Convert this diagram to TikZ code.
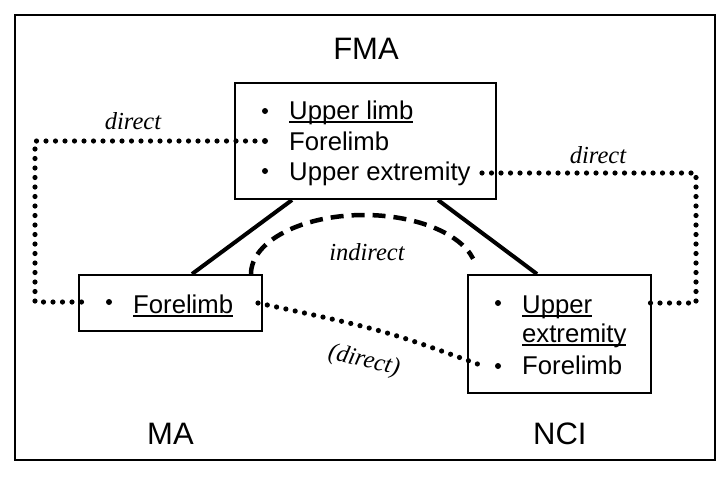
\documentclass[tikz,border=0pt]{standalone}
\usepackage{fontspec}
\setmainfont{Liberation Sans}
\newfontfamily\tnr{Liberation Serif}
\newcommand\myul[1]{\setbox0=\hbox{#1}\rlap{\rule[-3.5pt]{\wd0}{1.4pt}}\box0}
\begin{document}
\begin{tikzpicture}[x=1pt,y=-1pt,
 box/.style={draw,line width=2pt,inner sep=0pt},
 body/.style={font=\fontsize{25.7}{30}\selectfont,inner sep=0pt,anchor=base west},
 head/.style={font=\fontsize{31}{36}\selectfont,inner sep=0pt},
 lbl/.style={font=\fontsize{24.5}{28}\selectfont\tnr\itshape,inner sep=0pt},
 bul/.style={circle,fill,inner sep=0pt,minimum size=6pt},
 dotline/.style={line width=5.2pt,line cap=round,dash pattern=on 0pt off 9.5pt},
 solidline/.style={line width=4pt},
 dashline/.style={line width=4.5pt,dash pattern=on 13pt off 8pt}]
\useasboundingbox (0,0) rectangle (728,477);
\node[box,minimum width=700pt,minimum height=445pt] (frame) at (365,237.5) {};
% boxes
\node[box,minimum width=261pt,minimum height=116pt] (fma) at (365.5,141) {};
\node[box,minimum width=183pt,minimum height=56pt] (ma) at (170.5,303) {};
\node[box,minimum width=183pt,minimum height=118pt] (nci) at (559.5,334) {};
% headings
\node[head,anchor=base] (hfma) at (366,59) {FMA};
\node[head,anchor=base west] (hma) at (147,444) {MA};
\node[head,anchor=base west] (hnci) at (533,444) {NCI};
% FMA texts
\node[bul] (fb1) at (265,111) {};
\node[bul] (fb2) at (265,141) {};
\node[bul] (fb3) at (265,171) {};
\node[body] (ft1) at (289,119) {\myul{Upper limb}};
\node[body] (ft2) at (289,150) {Forelimb};
\node[body] (ft3) at (289,180) {Upper extremity};
% MA texts
\node[bul] (mb) at (109,302) {};
\node[body] (mt) at (133,313) {\myul{Forelimb}};
% NCI texts
\node[bul] (nb1) at (498,303) {};
\node[bul] (nb3) at (498,366) {};
\node[body] (nt1) at (522,313) {\myul{Upper}};
\node[body] (nt2) at (522,342) {\myul{extremity}};
\node[body] (nt3) at (522,374) {Forelimb};
% labels
\node[lbl] (l1) at (133,121) {direct};
\node[lbl] (l2) at (598,155) {direct};
\node[lbl] (l3) at (367,252) {indirect};
\node[lbl,rotate=-13] (l4) at (364,361) {(direct)};
% corner coordinates
\coordinate (c1) at (35,141);
\coordinate (c2) at (35,302);
\coordinate (r0) at (482,173);
\coordinate (r1) at (696,173);
\coordinate (r2) at (696,303);
\coordinate (mc) at (384,330);
% solid connectors
\draw[solidline] ([xshift=58pt]fma.south west) -- ([xshift=114pt]ma.north west);
\draw[solidline] ([xshift=204pt]fma.south west) -- ([xshift=70pt]nci.north west);
% dashed arc
\draw[dashline] ([xshift=173pt]ma.north west) arc[start angle=180,end angle=15,x radius=113pt,y radius=59pt];
% dotted connectors
\draw[dotline] ([xshift=-10pt]fb2.center) -- (c1) -- (c2) -- ([xshift=-21pt]mb.center);
\draw[dotline] (r0) -- (r1) -- (r2) -- ([xshift=144pt]nb1.center);
\draw[dotline] ([xshift=-5pt]ma.east) .. controls (mc) .. ([xshift=-15pt]nb3.center);
\end{tikzpicture}
\end{document}
